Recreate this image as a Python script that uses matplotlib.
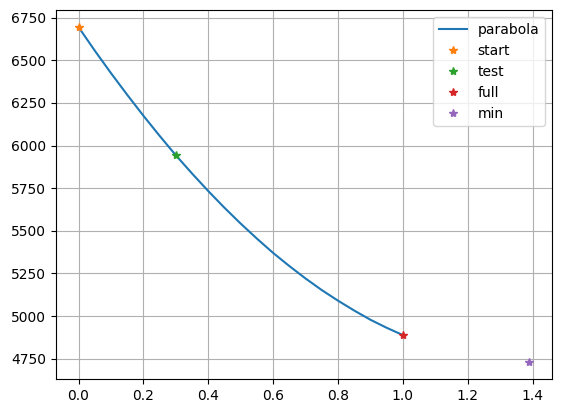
import numpy as np
import matplotlib.pyplot as plt

# curve
curve_x = [0.0, 0.05, 0.1, 0.15, 0.2, 0.25, 0.3, 0.35, 0.4, 0.45, 0.5,
           0.55, 0.6, 0.65, 0.7, 0.75, 0.8, 0.85, 0.9, 0.95, 1.0]
curve_y = [6695, 6557, 6425, 6298, 6175, 6057, 5943, 5836, 5733, 5635, 5542,
           5454, 5370, 5293, 5220, 5152, 5090, 5032, 4978, 4931, 4888]

# marked points
start = (0.0, 6695)
test = (0.3, 5943)
full = (1.0, 4888)
minimum = (1.39, 4728)

fig = plt.figure(figsize=(5.61, 4.13), dpi=100)
ax = fig.add_axes([0.0998, 0.082, 0.884, 0.893])

ax.plot(curve_x, curve_y, label='parabola')
ax.plot(start[0], start[1], '*', label='start')
ax.plot(test[0], test[1], '*', label='test')
ax.plot(full[0], full[1], '*', label='full')
ax.plot(minimum[0], minimum[1], '*', label='min')

ax.grid(True)
ax.legend()
fig.savefig('out.png')
